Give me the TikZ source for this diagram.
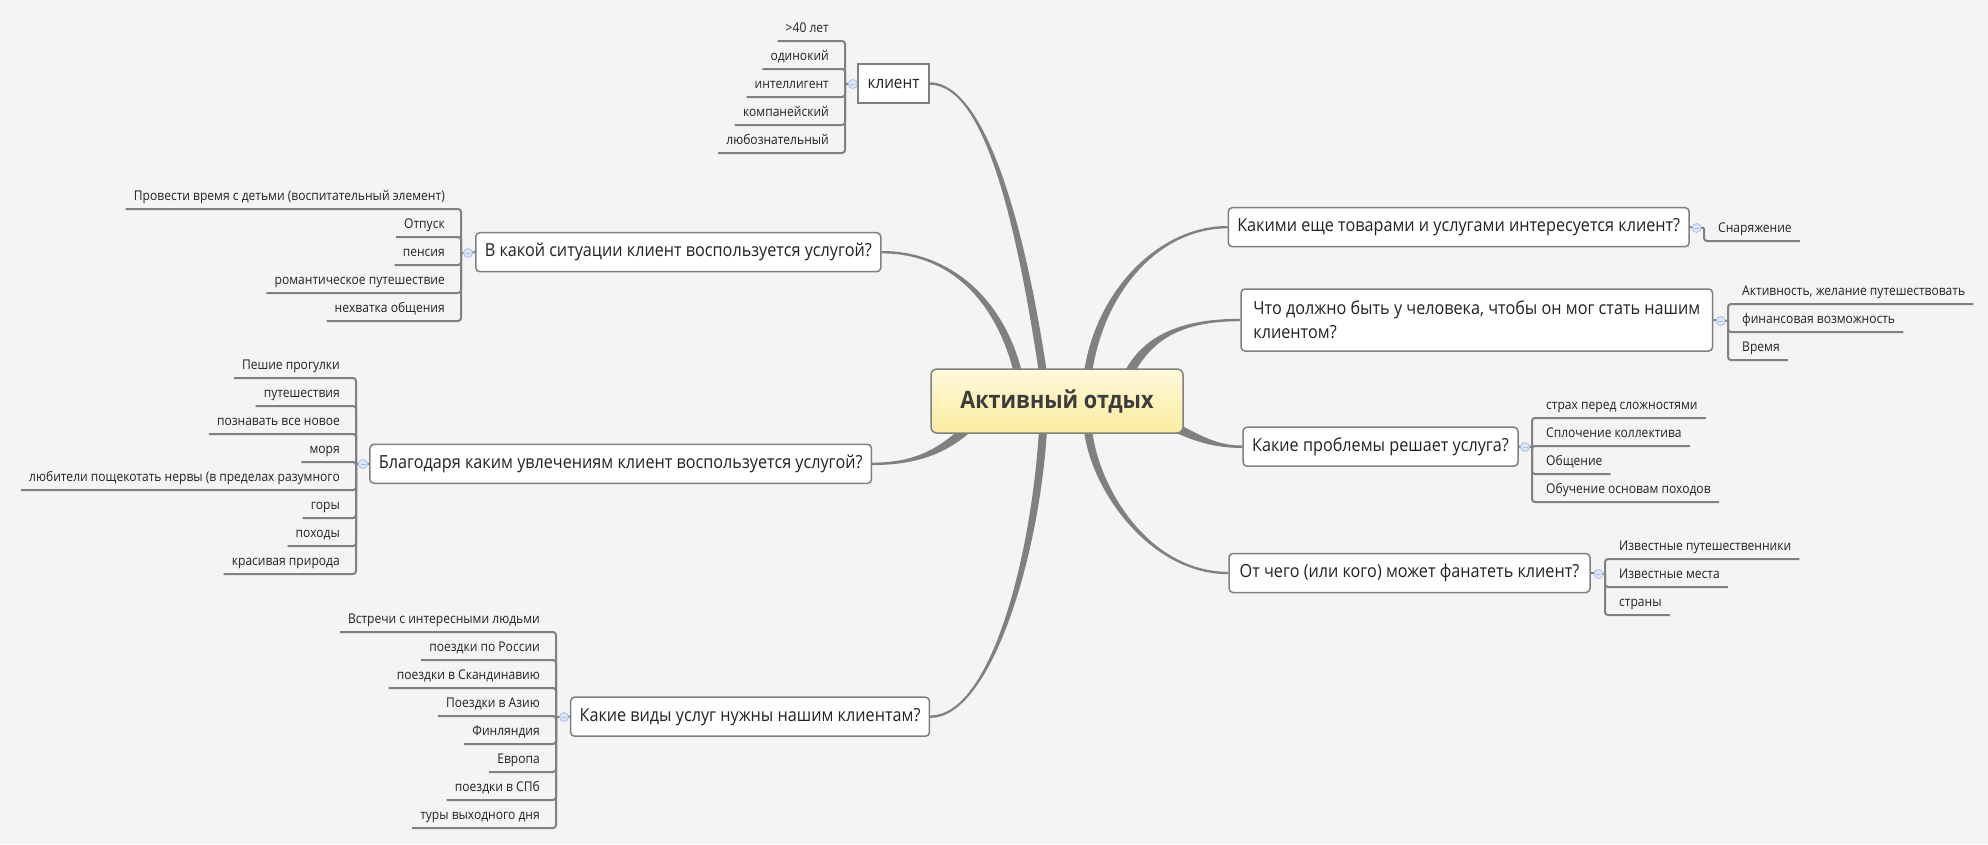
\documentclass[tikz,border=0pt]{standalone}
\usepackage{fontspec}
\setmainfont{Open Sans}[FakeStretch=0.9]
\usetikzlibrary{calc,positioning,shapes.geometric}
\definecolor{paper}{HTML}{F4F4F4}
\definecolor{limbgray}{HTML}{808080}
\definecolor{ink}{HTML}{222222}
\definecolor{rootink}{HTML}{3C3C3C}
\definecolor{rootTop}{HTML}{FEF9DA}
\definecolor{rootBot}{HTML}{FAEC9F}
\definecolor{knobfill}{HTML}{DCE6F7}
\definecolor{knobline}{HTML}{A9C0E6}
\pgfdeclarelayer{bg}
\pgfsetlayers{bg,main}
% tapered branch: start, control 1, control 2, end, half width at start, half width at end
\newcommand\limb[6]{\fill[limbgray] ($(#1)+(#5)$) .. controls ($(#2)+(#5)$) and ($(#3)+(#6)$) .. ($(#4)+(#6)$)
  -- ($(#4)-(#6)$) .. controls ($(#3)-(#6)$) and ($(#2)-(#5)$) .. ($(#1)-(#5)$) -- cycle;}

\begin{document}
\begin{tikzpicture}[x=1pt,y=-1pt,
  root/.style={draw=limbgray,line width=1.5pt,rounded corners=6pt,top color=rootTop,bottom color=rootBot,
    minimum width=252pt,minimum height=64pt,text=rootink,font=\fontsize{24}{28}\selectfont\bfseries},
  topic/.style={draw=limbgray,line width=1.5pt,rounded corners=4pt,fill=white,text=ink,
    minimum height=39pt,inner xsep=9pt,font=\fontsize{18}{24}\selectfont},
  leaf/.style={text=ink,inner xsep=8pt,inner ysep=8pt,text depth=0pt,font=\fontsize{13.4}{16}\selectfont},
  leafL/.style={leaf,anchor=south east},
  leafR/.style={leaf,anchor=south west},
  twig/.style={draw=limbgray,line width=2pt,rounded corners=3pt},
  knob/.style={circle,inner sep=0pt,minimum size=9pt,fill=knobfill,draw=knobline,line width=0.8pt,
    path picture={\draw[knobline,line width=0.9pt] ([xshift=-2.5pt]path picture bounding box.center)
      -- ([xshift=2.5pt]path picture bounding box.center);}}]
\useasboundingbox (0,0) rectangle (1988,844);

% centre and main questions
\node[root] (root) at (1057,401) {Активный отдых};
\node[topic,rounded corners=0pt,line width=2pt,minimum width=71pt,inner xsep=6pt,font=\fontsize{17}{20}\selectfont] (klient) at (893.5,83.5) {клиент};
\node[topic,minimum width=404.6pt] (sit) at (678.3,252.2) {В какой ситуации клиент воспользуется услугой?};
\node[topic,minimum width=501.4pt] (hobby) at (620.7,463.8) {Благодаря каким увлечениям клиент воспользуется услугой?};
\node[topic,minimum width=358pt] (kinds) at (750,716.7) {Какие виды услуг нужны нашим клиентам?};
\node[topic,minimum width=459.4pt] (goods) at (1458.7,227.2) {Какими еще товарами и услугами интересуется клиент?};
\node[topic,minimum width=471.6pt,minimum height=62pt,align=left] (need) at (1476.8,320) {Что должно быть у человека, чтобы он мог стать нашим\\клиентом?};
\node[topic,minimum width=275pt] (probl) at (1380.5,446.7) {Какие проблемы решает услуга?};
\node[topic,minimum width=361pt] (fans) at (1409.5,573) {От чего (или кого) может фанатеть клиент?};

% where the branches meet the centre
\coordinate (r-klient) at (1043,373);
\coordinate (r-sit) at (1018,373);
\coordinate (r-goods) at (1088,373);
\coordinate (r-need) at (1129,373);
\coordinate (r-hobby) at (967,429);
\coordinate (r-kinds) at (1043,430);
\coordinate (r-probl) at (1172,426);
\coordinate (r-fans) at (1088,430);

\begin{pgfonlayer}{bg}
\fill[paper] (0,0) rectangle (1988,844);
\limb{klient.east}{980,84}{1017,200}{r-klient}{0,-1.2}{4,0}
\limb{sit.east}{950,252}{1000,300}{r-sit}{0,-1.2}{3.9,-1}
\limb{goods.west}{1160,227}{1100,290}{r-goods}{0,1.2}{4,0.6}
\limb{need.west}{1180,320}{1148,338}{r-need}{0,1.2}{4,2.2}
\limb{hobby.east}{920,464}{945,448}{r-hobby}{0,-1.2}{-2.9,-3.4}
\limb{kinds.east}{990,717}{1035,560}{r-kinds}{0,-1.2}{-4,-0.25}
\limb{probl.west}{1215,447}{1195,437}{r-probl}{0,1.2}{-1.9,4.1}
\limb{fans.west}{1150,573}{1095,490}{r-fans}{0,1.2}{-4,0.5}
\end{pgfonlayer}

% клиент
\coordinate (v-klient) at (845,84);
\node[leafL] (k1) at (837,41) {>40 лет};
\node[leafL] (k2) at (837,69) {одинокий};
\node[leafL] (k3) at (837,97) {интеллигент};
\node[leafL] (k4) at (837,125) {компанейский};
\node[leafL] (k5) at (837,153) {любознательный};
\draw[twig] (klient.west) -- (v-klient);
\foreach \i in {1,...,5} \draw[twig] (v-klient) |- (k\i.south west);
\node[knob] (o-klient) at (852.7,84) {};

% ситуация
\coordinate (v-sit) at (461,253);
\node[leafL] (s1) at (453,209) {Провести время с детьми (воспитательный элемент)};
\node[leafL] (s2) at (453,237) {Отпуск};
\node[leafL] (s3) at (453,265) {пенсия};
\node[leafL] (s4) at (453,293) {романтическое путешествие};
\node[leafL] (s5) at (453,321) {нехватка общения};
\draw[twig] (sit.west) -- (v-sit);
\foreach \i in {1,...,5} \draw[twig] (v-sit) |- (s\i.south west);
\node[knob] (o-sit) at (468,253) {};

% увлечения
\coordinate (v-hobby) at (356,464);
\node[leafL] (h1) at (348,378) {Пешие прогулки};
\node[leafL] (h2) at (348,406) {путешествия};
\node[leafL] (h3) at (348,434) {познавать все новое};
\node[leafL] (h4) at (348,462) {моря};
\node[leafL] (h5) at (348,490) {любители пощекотать нервы (в пределах разумного};
\node[leafL] (h6) at (348,518) {горы};
\node[leafL] (h7) at (348,546) {походы};
\node[leafL] (h8) at (348,574) {красивая природа};
\draw[twig] (hobby.west) -- (v-hobby);
\foreach \i in {1,...,8} \draw[twig] (v-hobby) |- (h\i.south west);
\node[knob] (o-hobby) at (363,464) {};

% виды услуг
\coordinate (v-kinds) at (556,717);
\node[leafL] (u1) at (548,632) {Встречи с интересными людьми};
\node[leafL] (u2) at (548,660) {поездки по России};
\node[leafL] (u3) at (548,688) {поездки в Скандинавию};
\node[leafL] (u4) at (548,716) {Поездки в Азию};
\node[leafL] (u5) at (548,744) {Финляндия};
\node[leafL] (u6) at (548,772) {Европа};
\node[leafL] (u7) at (548,800) {поездки в СПб};
\node[leafL] (u8) at (548,828) {туры выходного дня};
\draw[twig] (kinds.west) -- (v-kinds);
\foreach \i in {1,...,8} \draw[twig] (v-kinds) |- (u\i.south west);
\node[knob] (o-kinds) at (564,717) {};

% товары
\coordinate (v-goods) at (1704,228);
\node[leafR] (g1) at (1710,241) {Снаряжение};
\draw[twig] (goods.east) -- (v-goods);
\draw[twig] (v-goods) |- (g1.south east);
\node[knob] (o-goods) at (1696.5,228) {};

% что должно быть
\coordinate (v-need) at (1728,321);
\node[leafR] (n1) at (1734,304) {Активность, желание путешествовать};
\node[leafR] (n2) at (1734,332) {финансовая возможность};
\node[leafR] (n3) at (1734,360) {Время};
\draw[twig] (need.east) -- (v-need);
\foreach \i in {1,...,3} \draw[twig] (v-need) |- (n\i.south east);
\node[knob] (o-need) at (1720.6,321) {};

% проблемы
\coordinate (v-probl) at (1532,447);
\node[leafR] (p1) at (1538,418) {страх перед сложностями};
\node[leafR] (p2) at (1538,446) {Сплочение коллектива};
\node[leafR] (p3) at (1538,474) {Общение};
\node[leafR] (p4) at (1538,502) {Обучение основам походов};
\draw[twig] (probl.east) -- (v-probl);
\foreach \i in {1,...,4} \draw[twig] (v-probl) |- (p\i.south east);
\node[knob] (o-probl) at (1525,447) {};

% фанаты
\coordinate (v-fans) at (1605,574);
\node[leafR] (f1) at (1611,559) {Известные путешественники};
\node[leafR] (f2) at (1611,587) {Известные места};
\node[leafR] (f3) at (1611,615) {страны};
\draw[twig] (fans.east) -- (v-fans);
\foreach \i in {1,...,3} \draw[twig] (v-fans) |- (f\i.south east);
\node[knob] (o-fans) at (1598.5,574) {};
\end{tikzpicture}
\end{document}
